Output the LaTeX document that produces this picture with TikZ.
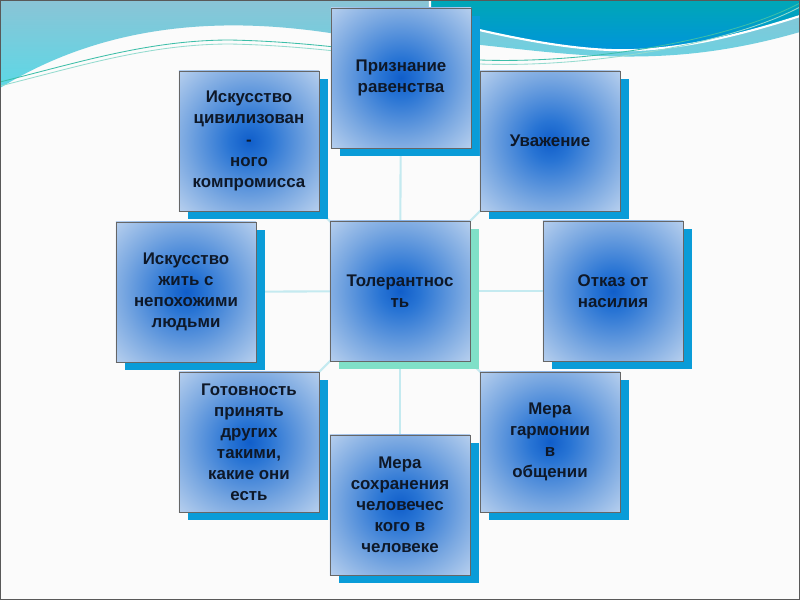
\documentclass[tikz,border=0pt]{standalone}
\usepackage{fontspec}
\setmainfont{Liberation Sans}
\usepackage{tikz}
\usetikzlibrary{shadows, backgrounds}

\definecolor{glowcore}{RGB}{16,94,202}
\definecolor{glowmid}{RGB}{40,116,212}
\definecolor{glowsoft}{RGB}{122,168,225}
\definecolor{glowedge}{RGB}{198,217,241}
\definecolor{glowrim}{RGB}{247,250,253}
\definecolor{shadowblue}{RGB}{10,156,216}
\definecolor{shadowmint}{RGB}{128,224,200}
\definecolor{linkcyan}{RGB}{196,234,240}
\definecolor{inkdark}{RGB}{14,24,40}
\definecolor{bandsteel}{RGB}{138,196,214}
\definecolor{bandcyan}{RGB}{92,216,230}
\definecolor{bandteal}{RGB}{0,168,180}
\definecolor{bandblue}{RGB}{0,148,220}
\definecolor{swooshline}{RGB}{60,190,168}
\definecolor{paper}{RGB}{251,251,251}

\pgfdeclareradialshading{boxglow}{\pgfpoint{0bp}{0bp}}{%
  color(0bp)=(glowcore); color(5bp)=(glowmid); color(16bp)=(glowsoft);
  color(27bp)=(glowedge); color(37bp)=(glowrim); color(50bp)=(glowrim)}

\begin{document}
\begin{tikzpicture}[
  x=0.025cm, y=-0.025cm,
  ideabox/.style={draw=gray!80!black, line width=0.6pt, fill=glowrim,
    path picture={\shade[shading=boxglow] (path picture bounding box.center) circle (2.5cm);},
    minimum width=3.5cm, minimum height=3.5cm, inner sep=2pt, align=center,
    text=inkdark, font=\fontsize{12}{15}\selectfont\bfseries},
  ringbox/.style={ideabox, drop shadow={shadow xshift=0.22cm, shadow yshift=-0.2cm, fill=shadowblue, opacity=1}},
  corebox/.style={ideabox, drop shadow={shadow xshift=0.22cm, shadow yshift=-0.2cm, fill=shadowmint, opacity=1}},
  link/.style={draw=linkcyan, line width=1.5pt},
]
\useasboundingbox (0,0) rectangle (800,600);

% --- Slide background and top waves ---
\begin{scope}[on background layer]
\fill[paper] (0,0) rectangle (800,600);
\shade[top color=bandsteel, bottom color=bandcyan] (0,0) -- (800,0) -- (800,32)
  .. controls (720,55) and (660,58) .. (600,56)
  .. controls (520,52) and (450,38) .. (330,33)
  .. controls (230,18) and (110,20) .. (0,88) -- cycle;
\shadedraw[top color=bandteal, bottom color=bandblue, draw=white, line width=1.5pt]
  (430,-3) -- (803,-3) -- (803,15)
  .. controls (720,42) and (660,52) .. (610,50)
  .. controls (560,48) and (500,36) .. (430,18) -- cycle;
% thin swoosh lines
\draw[swooshline, line width=0.6pt] (0,82) .. controls (80,62) and (150,40) .. (230,40)
  .. controls (330,42) and (400,58) .. (480,60) .. controls (590,64) and (730,40) .. (800,3);
\draw[swooshline!55!white, line width=0.6pt] (0,86) .. controls (80,66) and (150,44) .. (230,44)
  .. controls (330,46) and (400,62) .. (480,64) .. controls (590,68) and (730,44) .. (800,7);
\end{scope}

% --- Boxes ---
\node[ringbox] (accept)  at (401,78)  {Признание\\равенства};
\node[ringbox] (respect) at (550,141) {Уважение};
\node[ringbox] (civil)   at (249,141) {Искусство\\цивилизован\\-\\ного\\компромисса};
\node[ringbox] (coexist) at (186,292) {Искусство\\жить с\\непохожими\\людьми};
\node[corebox] (core)    at (400,291) {Толерантнос\\ть};
\node[ringbox] (refuse)  at (613,291) {Отказ от\\насилия};
\node[ringbox] (ready)   at (249,442) {Готовность\\принять\\других\\такими,\\какие они\\есть};
\node[ringbox] (harmony) at (550,442) {Мера\\гармонии\\в\\общении};
\node[ringbox] (humane)  at (400,505) {Мера\\сохранения\\человечес\\кого в\\человеке};

% --- Faint links behind the boxes ---
\begin{scope}[on background layer]
\foreach \n in {accept, respect, civil, coexist, refuse, ready, harmony, humane}
  \draw[link] (core.center) -- (\n.center);
\end{scope}

% slide frame
\draw[gray!70!black, line width=0.8pt] (0.5,0.5) rectangle (799.5,599.5);
\end{tikzpicture}
\end{document}
